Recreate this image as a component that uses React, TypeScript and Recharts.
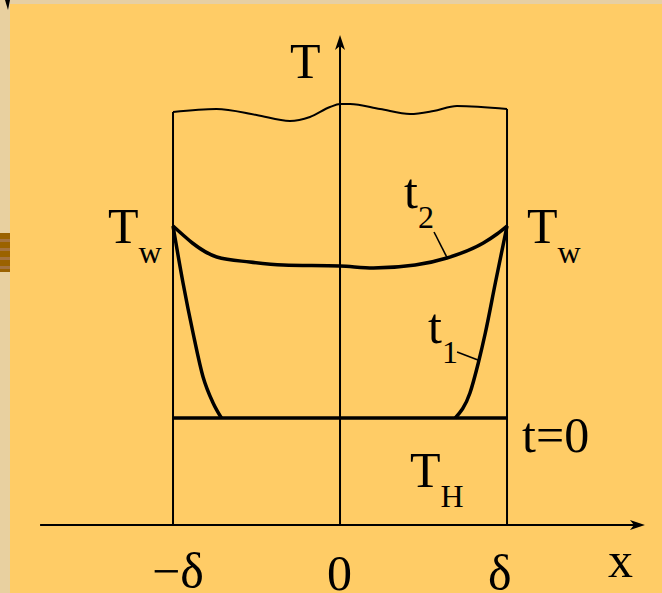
import { ComposedChart, Line, Scatter, XAxis, YAxis } from 'recharts'

// Profile data: x in units of the half-thickness δ, T in arbitrary units.
const wallLeft = [
  { x: -1, y: 0 },
  { x: -1, y: 4.13 },
]
const wallRight = [
  { x: 1, y: 0 },
  { x: 1, y: 4.16 },
]

// wavy break line above the walls
const breakLine = [
  { x: -1, y: 4.13 },
  { x: -0.74, y: 4.16 },
  { x: -0.5, y: 4.1 },
  { x: -0.3, y: 4.04 },
  { x: -0.18, y: 4.08 },
  { x: -0.06, y: 4.18 },
  { x: 0, y: 4.21 },
  { x: 0.06, y: 4.21 },
  { x: 0.24, y: 4.16 },
  { x: 0.42, y: 4.11 },
  { x: 0.56, y: 4.14 },
  { x: 0.7, y: 4.19 },
  { x: 1, y: 4.16 },
]

const initialProfile = [
  { x: -1, y: 1.07 },
  { x: 1, y: 1.07 },
]

// t1: two wall branches, gap across the untouched core
const profileT1 = [
  { x: -1, y: 2.99 },
  { x: -0.94, y: 2.42 },
  { x: -0.88, y: 1.92 },
  { x: -0.82, y: 1.48 },
  { x: -0.76, y: 1.22 },
  { x: -0.71, y: 1.07 },
  { x: 0, y: null },
  { x: 0.69, y: 1.07 },
  { x: 0.778, y: 1.32 },
  { x: 0.828, y: 1.62 },
  { x: 0.87, y: 1.92 },
  { x: 0.93, y: 2.42 },
  { x: 1, y: 2.99 },
]

const profileT2 = [
  { x: -1, y: 2.99 },
  { x: -0.94, y: 2.9 },
  { x: -0.884, y: 2.82 },
  { x: -0.738, y: 2.68 },
  { x: -0.54, y: 2.63 },
  { x: -0.34, y: 2.6 },
  { x: 0, y: 2.59 },
  { x: 0.2, y: 2.57 },
  { x: 0.45, y: 2.6 },
  { x: 0.64, y: 2.67 },
  { x: 0.858, y: 2.82 },
  { x: 0.94, y: 2.91 },
  { x: 1, y: 2.99 },
]

const leaderT2 = [
  { x: 0.563, y: 2.93 },
  { x: 0.639, y: 2.68 },
]
const leaderT1 = [
  { x: 0.701, y: 1.73 },
  { x: 0.826, y: 1.65 },
]

const axisX = [
  { x: -1.796, y: 0 },
  { x: 1.8, y: 0 },
]
const axisT = [
  { x: 0, y: 0 },
  { x: 0, y: 4.85 },
]

const arrowHeads = [
  { x: 1.826, y: 0, dir: 'right' },
  { x: 0, y: 4.9, dir: 'up' },
]

const labels = [
  { x: -0.3, y: 4.47, main: 'T', sub: '' },
  { x: -1.389, y: 2.82, main: 'T', sub: 'w' },
  { x: 1.12, y: 2.82, main: 'T', sub: 'w' },
  { x: 0.383, y: 3.17, main: 't', sub: '2' },
  { x: 0.527, y: 1.82, main: 't', sub: '1' },
  { x: 1.09, y: 0.73, main: 't=0', sub: '' },
  { x: 0.419, y: 0.38, main: 'T', sub: 'H' },
  { x: -1.126, y: -0.63, main: '\u2212\u03b4', sub: '' },
  { x: -0.078, y: -0.65, main: '0', sub: '' },
  { x: 0.886, y: -0.65, main: '\u03b4', sub: '' },
  { x: 1.605, y: -0.52, main: 'x', sub: '' },
]

const FONT = '"Liberation Serif", "Times New Roman", serif'

const renderLabel = (props: any) => {
  const { cx, cy, payload } = props
  return (
    <text x={cx} y={cy} fontFamily={FONT} fontSize={50} fill="#000">
      {payload.main}
      {payload.sub ? (
        <tspan fontSize={32} dy={20}>
          {payload.sub}
        </tspan>
      ) : null}
    </text>
  )
}

const renderArrow = (props: any) => {
  const { cx, cy, payload } = props
  const pts =
    payload.dir === 'right'
      ? `${cx},${cy} ${cx - 15},${cy - 5} ${cx - 11},${cy} ${cx - 15},${cy + 5}`
      : `${cx},${cy} ${cx - 5},${cy + 15} ${cx},${cy + 11} ${cx + 5},${cy + 15}`
  return <polygon points={pts} fill="#000" />
}

const lineProps = {
  dataKey: 'y',
  stroke: '#000',
  dot: false,
  activeDot: false,
  isAnimationActive: false,
  legendType: 'none' as const,
}

export default function App() {
  return (
    <div
      style={{
        position: 'fixed',
        left: 0,
        top: 0,
        width: 662,
        height: 593,
        background: '#FFCC66',
        overflow: 'hidden',
      }}
    >
      <div style={{ position: 'absolute', left: 0, top: 0, width: 662, height: 4, background: '#E6CFA4' }} />
      <div style={{ position: 'absolute', left: 0, top: 0, width: 10, height: 593, background: '#E8D0A0' }} />
      <div
        style={{
          position: 'absolute',
          left: 0,
          top: 233,
          width: 10,
          height: 39,
          background:
            'repeating-linear-gradient(#9B6200 0px, #9B6200 6px, #A5733F 6px, #A5733F 9px)',
        }}
      />
      <svg style={{ position: 'absolute', left: 0, top: 0 }} width={12} height={12}>
        <polygon points="5,0 10,0 8,10" fill="#000" />
      </svg>
      <ComposedChart
        width={662}
        height={593}
        margin={{ top: 0, right: 0, bottom: 0, left: 0 }}
        style={{ position: 'absolute', left: 0, top: 0 }}
      >
        <XAxis
          dataKey="x"
          type="number"
          scale="linear"
          domain={[-2.036, 1.928]}
          allowDataOverflow
          hide
        />
        <YAxis type="number" scale="linear" domain={[-0.68, 5.25]} allowDataOverflow hide />
        <Line {...lineProps} data={axisX} type="linear" strokeWidth={2} />
        <Line {...lineProps} data={axisT} type="linear" strokeWidth={2} />
        <Line {...lineProps} data={wallLeft} type="linear" strokeWidth={2} />
        <Line {...lineProps} data={wallRight} type="linear" strokeWidth={2} />
        <Line {...lineProps} data={breakLine} type="monotone" strokeWidth={2} />
        <Line {...lineProps} data={initialProfile} type="linear" strokeWidth={3.5} />
        <Line {...lineProps} data={profileT1} type="monotone" strokeWidth={3.5} connectNulls={false} />
        <Line {...lineProps} data={profileT2} type="monotone" strokeWidth={3.5} />
        <Line {...lineProps} data={leaderT2} type="linear" strokeWidth={1.6} />
        <Line {...lineProps} data={leaderT1} type="linear" strokeWidth={1.6} />
        <Scatter data={arrowHeads} dataKey="y" shape={renderArrow} isAnimationActive={false} legendType="none" />
        <Scatter data={labels} dataKey="y" shape={renderLabel} isAnimationActive={false} legendType="none" />
      </ComposedChart>
    </div>
  )
}
